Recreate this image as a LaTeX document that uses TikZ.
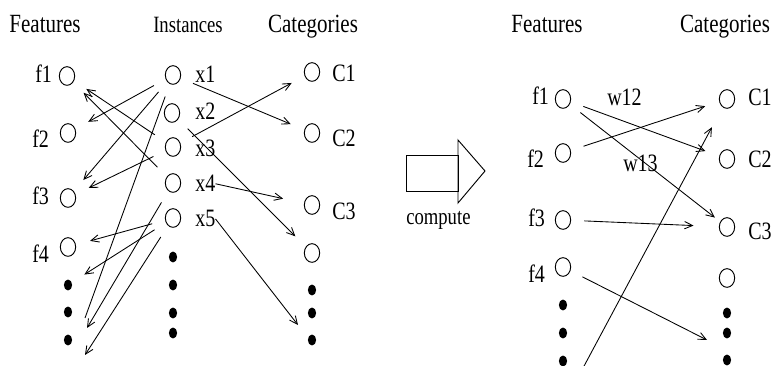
\documentclass[tikz,border=0pt]{standalone}
\usepackage{fontspec}
\setmainfont{Liberation Serif}[FakeStretch=0.8]
\usetikzlibrary{shapes.geometric,arrows.meta}

\tikzset{
  unit/.style={ellipse, draw, inner sep=0pt, minimum width=11.5pt,
    minimum height=14pt, line width=0.7pt},
  more/.style={ellipse, fill, inner sep=0pt, minimum width=6.2pt,
    minimum height=8.2pt},
  head/.style={font=\fontsize{19.7}{22}\selectfont, anchor=base, inner sep=0pt},
  smallhead/.style={font=\fontsize{17.5}{20}\selectfont, anchor=base, inner sep=0pt},
  lbl/.style={font=\fontsize{18.75}{22}\selectfont, anchor=base west, inner sep=0pt},
  link/.style={-{Straight Barb[length=6pt,width=5.5pt]}, line width=0.65pt,
    shorten <=10pt, shorten >=11pt},
}

\begin{document}
\begin{tikzpicture}[x=0.75pt, y=-0.75pt]
  \useasboundingbox (0,0) rectangle (775,366);

  % left part: features, instances, categories
  \node[head] (feat) at (45,33) {Features};
  \node[smallhead] (inst) at (188,33) {Instances};
  \node[head] (cat) at (313,33) {Categories};

  \node[unit] (f1) at (67,76) {};
  \node[unit] (f2) at (68,133) {};
  \node[unit] (f3) at (68,198) {};
  \node[unit] (f4) at (68,247) {};
  \foreach \y [count=\i] in {285,312,340}
    \node[more] (fd\i) at (68,\y) {};

  \node[lbl] (f1l) at (35,83) {f1};
  \node[lbl] (f2l) at (32,148) {f2};
  \node[lbl] (f3l) at (32,205) {f3};
  \node[lbl] (f4l) at (32,263) {f4};

  \node[unit] (x1) at (173,75) {};
  \node[unit] (x2) at (172,113) {};
  \node[unit] (x3) at (173,147) {};
  \node[unit] (x4) at (173,183) {};
  \node[unit] (x5) at (173,218) {};
  \foreach \y [count=\i] in {257,285,313,333}
    \node[more] (xd\i) at (173,\y) {};

  \node[lbl] (x1l) at (195,83) {x1};
  \node[lbl] (x2l) at (195,120) {x2};
  \node[lbl] (x3l) at (195,157) {x3};
  \node[lbl] (x4l) at (195,192) {x4};
  \node[lbl] (x5l) at (195,227) {x5};

  \node[unit] (C1) at (312,72) {};
  \node[unit] (C2) at (312,133) {};
  \node[unit] (C3) at (312,205) {};
  \node[unit] (cc4) at (312,253) {};
  \foreach \y [count=\i] in {290,313,340}
    \node[more] (cd\i) at (312,\y) {};

  \node[lbl] (C1l) at (332,82) {C1};
  \node[lbl] (C2l) at (332,147) {C2};
  \node[lbl] (C3l) at (332,220) {C3};

  \coordinate (e1) at (85,318);
  \coordinate (e2) at (298,325);
  \coordinate (e3) at (87,328);
  \coordinate (e4) at (85,355);

  \draw[link] (x1) -- (f2);
  \draw[link] (x1) -- (f3);
  \draw[link, -, shorten >=0pt] (x1) -- (e1);
  \draw[link] (x3) -- (f1);
  \draw[link] (x4) -- (f1);
  \draw[link] (x3) -- (f3);
  \draw[link] (x3) -- (C1);
  \draw[link] (x1) -- (C2);
  \draw[link] (x2) -- (cc4);
  \draw[link, shorten <=0pt, shorten >=16pt] (x4l.east) -- (C3);
  \draw[link, shorten <=0pt, shorten >=0pt] (x5l.east) -- (e2);
  \draw[link] (x5) -- (f4);
  \draw[link] (x5) -- (fd1);
  \draw[link, shorten >=0pt] (x4) -- (e3);
  \draw[link, shorten >=0pt] (x5) -- (e4);

  % the compute arrow
  \draw[line width=0.7pt] (406,155) rectangle (458,191);
  \draw[line width=0.7pt] (458,140) -- (485,171) -- (458,203) -- cycle;
  \node[smallhead, anchor=base west] (comp) at (406,225) {compute};

  % right part: features to categories
  \node[head] (feat2) at (547,33) {Features};
  \node[head] (cat2) at (725,33) {Categories};

  \node[unit] (g1) at (563,99) {};
  \node[unit] (g2) at (563,153) {};
  \node[unit] (g3) at (563,220) {};
  \node[unit] (g4) at (563,267) {};
  \foreach \y [count=\i] in {305,333,361}
    \node[more] (gd\i) at (563,\y) {};

  \node[lbl] (g1l) at (532,105) {f1};
  \node[lbl] (g2l) at (527,168) {f2};
  \node[lbl] (g3l) at (528,227) {f3};
  \node[lbl] (g4l) at (528,283) {f4};

  \node[unit] (D1) at (727,99) {};
  \node[unit] (D2) at (727,159) {};
  \node[unit] (D3) at (727,227) {};
  \node[unit] (dd4) at (727,278) {};
  \foreach \y [count=\i] in {313,333,360}
    \node[more] (dd\i) at (727,\y) {};

  \node[lbl] (D1l) at (748,106) {C1};
  \node[lbl] (D2l) at (748,168) {C2};
  \node[lbl] (D3l) at (748,240) {C3};

  \node[lbl] (w12) at (607,106) {w12};
  \node[lbl] (w13) at (623,172) {w13};

  \coordinate (e5) at (707,340);
  \coordinate (e6) at (583,368);

  \draw[link] (g1) -- (D2);
  \draw[link, shorten >=5pt] (g1) -- (D3);
  \draw[link] (g2) -- (D1);
  \draw[link, shorten >=19pt] (g3) -- (D3);
  \draw[link, shorten >=0pt] (g4) -- (e5);
  \draw[link, shorten <=0pt, shorten >=17pt] (e6) -- (D1);
\end{tikzpicture}
\end{document}
